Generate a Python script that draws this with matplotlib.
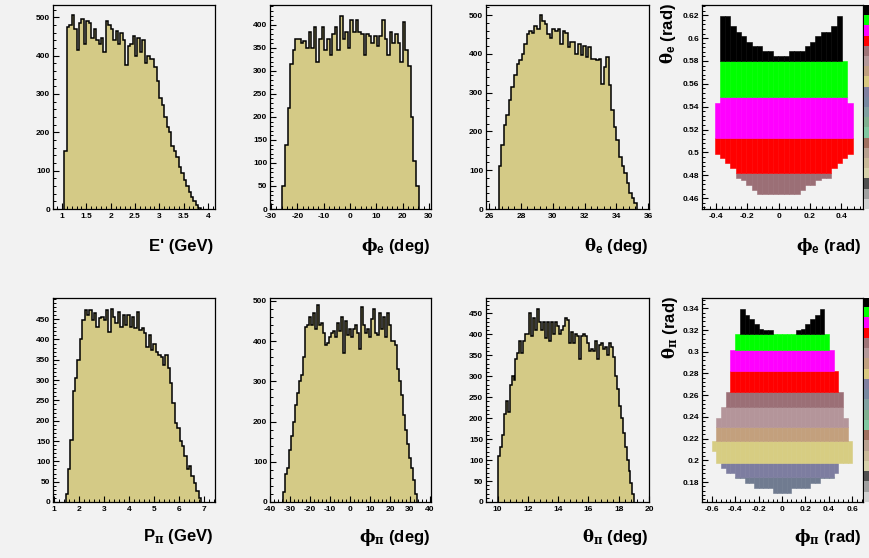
import numpy as np
import matplotlib
matplotlib.use('Agg')
import matplotlib.pyplot as plt
from matplotlib.ticker import FixedLocator, AutoMinorLocator, FuncFormatter
from matplotlib.colors import ListedColormap

# ---- 1D histograms: first bin edge, bin width, counts ----
e_prime_start, e_prime_width = 1.05, 0.05
e_prime_counts = [150, 475, 480, 505, 470, 415, 485, 495, 430, 490, 485, 445, 470, 440, 430,
                  445, 410, 490, 480, 470, 440, 465, 430, 460, 440, 375, 425, 430, 450, 400,
                  445, 410, 440, 380, 400, 390, 390, 370, 335, 290, 270, 240, 215, 200, 165,
                  150, 135, 110, 95, 75, 60, 45, 30, 20, 10, 3]

phi_e_start, phi_e_width = -25.7, 0.995
phi_e_counts = [50, 140, 220, 315, 345, 370, 370, 360, 365, 350, 385, 350, 395, 320, 370,
                395, 345, 370, 335, 380, 395, 345, 420, 370, 385, 350, 410, 385, 410, 385,
                380, 335, 380, 375, 360, 375, 355, 375, 410, 370, 335, 385, 360, 380, 360,
                320, 405, 345, 310, 200, 105, 50]

theta_e_start, theta_e_width = 26.6, 0.161
theta_e_counts = [110, 165, 217, 242, 280, 315, 345, 375, 383, 400, 426, 452, 460, 455, 473,
                  465, 500, 486, 478, 452, 440, 465, 460, 465, 426, 460, 455, 418, 430, 430,
                  400, 426, 396, 420, 392, 418, 388, 388, 383, 388, 323, 366, 392, 320, 255,
                  212, 178, 135, 110, 92, 67, 41, 28, 15]

p_pi_start, p_pi_width = 1.45, 0.095
p_pi_counts = [20, 80, 153, 272, 305, 350, 402, 448, 472, 460, 472, 448, 464, 431, 452,
               456, 448, 472, 419, 476, 456, 440, 468, 431, 460, 435, 460, 431, 456, 427,
               468, 423, 427, 415, 382, 411, 374, 390, 370, 362, 357, 337, 362, 329, 292,
               243, 194, 182, 149, 137, 112, 80, 88, 63, 47, 26, 10]

phi_pi_start, phi_pi_width = -33.3, 1.0
phi_pi_counts = [25, 70, 85, 130, 165, 200, 240, 270, 300, 315, 360, 435, 440, 460, 440,
                 470, 430, 490, 440, 445, 420, 390, 395, 410, 420, 425, 410, 445, 425, 460,
                 370, 450, 415, 430, 410, 430, 440, 420, 380, 485, 440, 420, 430, 410, 455,
                 480, 420, 415, 470, 430, 460, 410, 470, 440, 400, 400, 390, 330, 300, 265,
                 215, 180, 145, 110, 85, 55, 20]

theta_pi_start, theta_pi_width = 10.0, 0.131
theta_pi_counts = [110, 130, 160, 210, 240, 215, 280, 300, 290, 340, 355, 385, 355, 385, 400,
                   400, 450, 395, 440, 410, 460, 430, 410, 430, 390, 430, 385, 430, 400, 430,
                   420, 400, 410, 420, 440, 435, 380, 405, 380, 400, 395, 340, 395, 400, 395,
                   380, 360, 365, 360, 385, 340, 375, 380, 365, 370, 350, 380, 370, 345, 300,
                   270, 230, 200, 165, 130, 100, 75, 45, 20]

# ---- 2D maps: phi columns (start, width), theta extent per column, colour levels ----
phi_e_col_start, phi_e_col_width = -0.41, 0.034
theta_e_top = [0.543, 0.619, 0.619, 0.6104, 0.605, 0.6016, 0.597, 0.593, 0.593, 0.5885,
               0.5885, 0.5842, 0.5842, 0.5842, 0.5885, 0.5885, 0.5885, 0.593, 0.597, 0.6016,
               0.605, 0.605, 0.6104, 0.619, 0.5798, 0.543]
theta_e_bottom = [0.499, 0.4947, 0.4904, 0.486, 0.4773, 0.4758, 0.4714, 0.467, 0.4635, 0.4635,
                  0.4635, 0.4635, 0.4635, 0.4635, 0.4635, 0.4635, 0.467, 0.4714, 0.4714, 0.4758,
                  0.4773, 0.4773, 0.486, 0.4904, 0.4947, 0.499]
theta_e_levels = [0.44, 0.4816, 0.5122, 0.5486, 0.5798, 0.64]
theta_e_colors = ['#9b6f76', '#ff0000', '#ff00ff', '#00ff00', '#000000']

phi_pi_col_start, phi_pi_col_width = -0.6, 0.04
theta_pi_top = [0.218, 0.2393, 0.2494, 0.2632, 0.3016, 0.316, 0.339, 0.3338, 0.3299, 0.3255,
                0.3206, 0.32, 0.32, 0.316, 0.316, 0.316, 0.316, 0.316, 0.32, 0.3206,
                0.3255, 0.3299, 0.3338, 0.339, 0.316, 0.3016, 0.2825, 0.2632, 0.2393, 0.218]
theta_pi_bottom = [0.2087, 0.1978, 0.1932, 0.1886, 0.1886, 0.184, 0.184, 0.1794, 0.1794, 0.1748,
                   0.1748, 0.1748, 0.1748, 0.1702, 0.1702, 0.1702, 0.1702, 0.1748, 0.1748, 0.1748,
                   0.1748, 0.1794, 0.1794, 0.184, 0.184, 0.184, 0.1886, 0.1978, 0.1978, 0.1978]
theta_pi_levels = [0.16, 0.1849, 0.1978, 0.218, 0.2309, 0.2494, 0.2632, 0.2825, 0.3016, 0.316, 0.35]
theta_pi_colors = ['#707b90', '#7d7da0', '#d7cd82', '#c3a07d', '#b4959a', '#9b6f76',
                   '#ff0000', '#ff00ff', '#00ff00', '#000000']

palette = ['#000000', '#00ff00', '#ff00ff', '#ff0000', '#9e7478', '#b4989a', '#c0a080',
           '#d8c880', '#8080a0', '#7888a0', '#80a0a0', '#80b090', '#80c8a0', '#a07060',
           '#b8a090', '#c8b898', '#d6d0aa', '#505050', '#a0a0a0', '#d0d0d0']

FILL = '#d4ca86'
BG = '#f2f2f2'
W, H = 869, 558

plt.rcParams['font.family'] = 'Liberation Sans'
plt.rcParams['font.weight'] = 'bold'
plt.rcParams['mathtext.fontset'] = 'custom'
plt.rcParams['mathtext.rm'] = 'DejaVu Serif'
plt.rcParams['mathtext.it'] = 'DejaVu Serif:italic'
plt.rcParams['mathtext.bf'] = 'Liberation Sans:bold'
plt.rcParams['axes.linewidth'] = 0.9

fig = plt.figure(figsize=(W / 100, H / 100), dpi=100, facecolor=BG)


def add_ax(l, t, r, b):
    ax = fig.add_axes([l / W, 1 - b / H, (r - l) / W, (b - t) / H])
    ax.set_facecolor(BG)
    return ax


def style(ax, xlim, ylim, xticks, yticks):
    ax.set_xlim(*xlim)
    ax.set_ylim(*ylim)
    ax.xaxis.set_major_locator(FixedLocator(xticks))
    ax.yaxis.set_major_locator(FixedLocator(yticks))
    ax.xaxis.set_minor_locator(AutoMinorLocator(5))
    ax.yaxis.set_minor_locator(AutoMinorLocator(5))
    fmt = FuncFormatter(lambda v, p: f'{round(v, 6):g}')
    ax.xaxis.set_major_formatter(fmt)
    ax.yaxis.set_major_formatter(fmt)
    ax.tick_params(which='both', direction='in', top=False, right=False, labelsize=6)
    ax.tick_params(which='major', length=4.5, width=0.8)
    ax.tick_params(which='minor', length=2.2, width=0.7)
    ax.tick_params(axis='x', pad=3)
    ax.tick_params(axis='y', pad=2)


def draw_hist(ax, start, width, counts):
    counts = np.asarray(counts, float)
    edges = start + width * np.arange(len(counts) + 1)
    ax.stairs(counts, edges, fill=True, color=FILL, linewidth=0)
    ax.stairs(counts, edges, baseline=0, color='black', linewidth=1.1)


def draw_map(ax, start, width, bottoms, tops, levels, colors):
    bottoms = np.asarray(bottoms)
    tops = np.asarray(tops)
    centers = start + width * (np.arange(len(tops)) + 0.5)
    for lo, hi, c in zip(levels[:-1], levels[1:], colors):
        b = np.clip(bottoms, lo, hi)
        t = np.clip(tops, lo, hi)
        keep = (t - b) > 1e-9
        ax.bar(centers[keep], (t - b)[keep], width=width, bottom=b[keep],
               color=c, edgecolor=c, linewidth=0.4)


def draw_palette(t, b):
    pax = add_ax(864, t, 880, b)
    pax.imshow(np.arange(len(palette)).reshape(-1, 1), cmap=ListedColormap(palette),
               aspect='auto', interpolation='nearest')
    pax.axis('off')


# top row
ax = add_ax(53, 5, 215, 209)
draw_hist(ax, e_prime_start, e_prime_width, e_prime_counts)
style(ax, (0.815, 4.144), (0, 532), [1, 1.5, 2, 2.5, 3, 3.5, 4], range(0, 501, 100))

ax = add_ax(270, 5, 431, 209)
draw_hist(ax, phi_e_start, phi_e_width, phi_e_counts)
style(ax, (-30.4, 30.76), (0, 443), range(-30, 31, 10), range(0, 401, 50))

ax = add_ax(486, 5, 649, 209)
draw_hist(ax, theta_e_start, theta_e_width, theta_e_counts)
style(ax, (25.81, 36.05), (0, 526), range(26, 37, 2), range(0, 501, 100))

ax = add_ax(702, 5, 863, 209)
draw_map(ax, phi_e_col_start, phi_e_col_width, theta_e_bottom, theta_e_top,
         theta_e_levels, theta_e_colors)
style(ax, (-0.49, 0.54), (0.4505, 0.629), [-0.4, -0.2, 0, 0.2, 0.4],
      np.arange(0.46, 0.621, 0.02))
draw_palette(5, 209)

# bottom row
ax = add_ax(53, 298, 215, 502)
draw_hist(ax, p_pi_start, p_pi_width, p_pi_counts)
style(ax, (0.95, 7.43), (0, 502), range(1, 8), range(0, 451, 50))

ax = add_ax(270, 298, 431, 502)
draw_hist(ax, phi_pi_start, phi_pi_width, phi_pi_counts)
style(ax, (-40, 40.5), (0, 507), range(-40, 41, 10), range(0, 501, 100))

ax = add_ax(486, 298, 649, 502)
draw_hist(ax, theta_pi_start, theta_pi_width, theta_pi_counts)
style(ax, (9.23, 20.0), (0, 486.6), range(10, 21, 2), range(0, 451, 50))

ax = add_ax(702, 298, 863, 502)
draw_map(ax, phi_pi_col_start, phi_pi_col_width, theta_pi_bottom, theta_pi_top,
         theta_pi_levels, theta_pi_colors)
style(ax, (-0.683, 0.691), (0.1616, 0.3495), [-0.6, -0.4, -0.2, 0, 0.2, 0.4, 0.6],
      np.arange(0.18, 0.341, 0.02))
draw_palette(298, 502)

# axis titles
lab = dict(fontsize=12, fontweight='bold', ha='right', va='center')
fig.text(213 / W, 1 - 246 / H, "E' (GeV)", **lab)
fig.text(430 / W, 1 - 246 / H, r'$\mathrm{ϕ}_{\mathbf{e}}$ (deg)', **lab)
fig.text(649 / W, 1 - 246 / H, r'$\mathrm{θ}_{\mathbf{e}}$ (deg)', **lab)
fig.text(862 / W, 1 - 246 / H, r'$\mathrm{ϕ}_{\mathbf{e}}$ (rad)', **lab)
fig.text(213 / W, 1 - 537 / H, r'$\mathbf{P}_{\mathrm{π}}$ (GeV)', **lab)
fig.text(430 / W, 1 - 537 / H, r'$\mathrm{ϕ}_{\mathrm{π}}$ (deg)', **lab)
fig.text(649 / W, 1 - 537 / H, r'$\mathrm{θ}_{\mathrm{π}}$ (deg)', **lab)
fig.text(862 / W, 1 - 537 / H, r'$\mathrm{ϕ}_{\mathrm{π}}$ (rad)', **lab)

ylab = dict(fontsize=12, fontweight='bold', ha='center', va='top', rotation=90)
fig.text(668 / W, 1 - 3 / H, r'$\mathrm{θ}_{\mathbf{e}}$ (rad)', **ylab)
fig.text(670 / W, 1 - 296 / H, r'$\mathrm{θ}_{\mathrm{π}}$ (rad)', **ylab)

fig.savefig('out.png', dpi=100, facecolor=BG)
